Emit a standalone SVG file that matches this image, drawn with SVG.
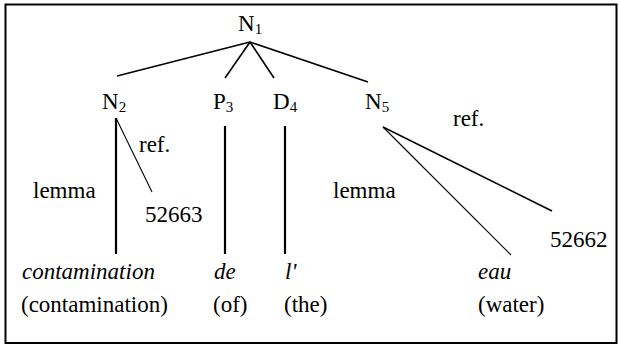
<svg xmlns="http://www.w3.org/2000/svg" width="619" height="345" viewBox="0 0 619 345">
<style>
text{font-family:"Liberation Serif","Times New Roman",serif;font-size:23px;fill:#000}
.sub{font-size:15px}
.it{font-style:italic}
.tree{stroke:#000;stroke-width:1.6;fill:none}
.vert{stroke:#000;stroke-width:2.2;fill:none}
.thin{stroke:#000;stroke-width:1.1;fill:none}
</style>
<rect x="5.5" y="4.5" width="611" height="338.5" fill="#fff" stroke="#000" stroke-width="2"/>
<g id="connectors">
<line class="tree" x1="250" y1="42" x2="117" y2="76"/>
<line class="tree" x1="250" y1="42" x2="225" y2="78"/>
<line class="tree" x1="250" y1="42" x2="274" y2="78"/>
<line class="tree" x1="250" y1="42" x2="368" y2="82"/>
<line class="vert" x1="116" y1="118" x2="116" y2="254"/>
<line class="thin" x1="116" y1="118" x2="152" y2="192"/>
<line class="vert" x1="225" y1="126" x2="225" y2="254"/>
<line class="vert" x1="285" y1="126" x2="285" y2="254"/>
<line class="tree" x1="383" y1="127" x2="552" y2="211"/>
<line class="thin" x1="383" y1="127" x2="511" y2="255"/>
</g>
<g id="N1"><text x="238" y="31">N<tspan class="sub" dy="3">1</tspan></text></g>
<g id="N2"><text x="102" y="109">N<tspan class="sub" dy="3">2</tspan></text></g>
<g id="P3"><text x="213" y="109">P<tspan class="sub" dy="3">3</tspan></text></g>
<g id="D4"><text x="273" y="109">D<tspan class="sub" dy="3">4</tspan></text></g>
<g id="N5"><text x="365" y="109">N<tspan class="sub" dy="3">5</tspan></text></g>
<g id="labels">
<text x="139" y="152">ref.</text>
<text x="33" y="198">lemma</text>
<text x="453" y="126">ref.</text>
<text x="333" y="198">lemma</text>
</g>
<g id="ref52663"><text x="145" y="222">52663</text></g>
<g id="ref52662"><text x="550" y="247">52662</text></g>
<g id="w-contamination">
<text class="it" x="22" y="279">contamination</text>
<text x="21" y="312">(contamination)</text>
</g>
<g id="w-de">
<text class="it" x="214" y="279">de</text>
<text x="213" y="312">(of)</text>
</g>
<g id="w-l">
<text class="it" x="285" y="279">l'</text>
<text x="284" y="312">(the)</text>
</g>
<g id="w-eau">
<text class="it" x="478" y="279">eau</text>
<text x="478" y="312">(water)</text>
</g>
</svg>
